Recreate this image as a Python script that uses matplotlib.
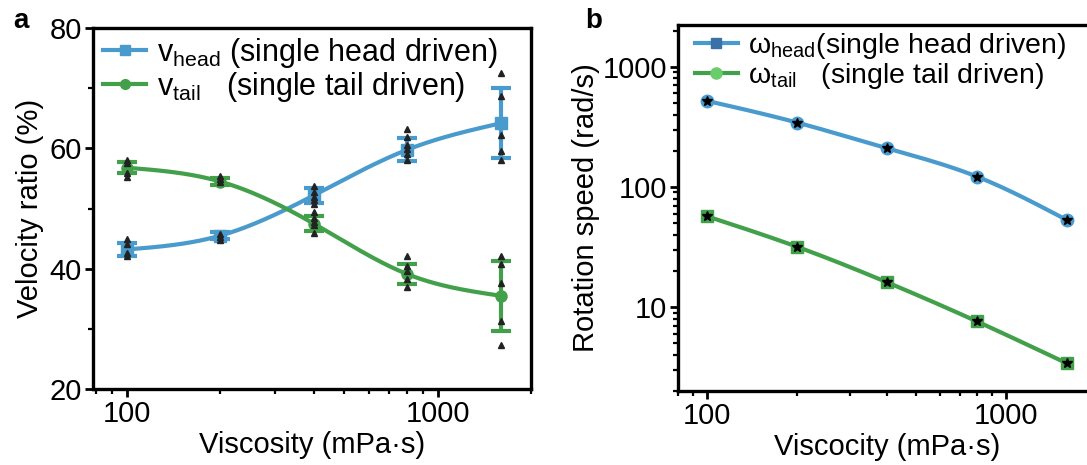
import numpy as np
import matplotlib
matplotlib.use("Agg")
import matplotlib.pyplot as plt
from matplotlib.lines import Line2D

plt.rcParams['font.family'] = ['Liberation Sans', 'DejaVu Sans']
plt.rcParams['mathtext.fontset'] = 'custom'
plt.rcParams['mathtext.rm'] = 'Liberation Sans'
plt.rcParams['mathtext.it'] = 'Liberation Sans:italic'

# viscosity (mPa.s)
visc = [100, 200, 400, 800, 1600]

# panel a: velocity ratio (%)
v_head = [43.2, 45.5, 52.2, 59.8, 64.2]
v_head_err = [1.0, 0.6, 1.2, 1.9, 5.8]
v_tail = [56.8, 54.5, 47.5, 39.1, 35.5]
v_tail_err = [0.9, 0.6, 1.2, 1.7, 5.8]

# individual trials (black triangles)
head_pts = [[44.9, 44.1, 42.7, 42.2],
            [45.8, 45.2, 44.7],
            [53.8, 52.7, 52.0, 51.5, 50.8],
            [63.3, 61.9, 60.5, 59.9, 59.1, 58.0],
            [72.6, 68.7, 62.3, 59.6, 58.0]]
tail_pts = [[58.0, 57.5, 56.0, 55.2],
            [55.5, 54.9, 54.4],
            [49.4, 48.5, 47.8, 47.2, 46.0],
            [42.2, 40.5, 39.7, 38.3, 36.9],
            [42.2, 40.8, 37.7, 31.3, 27.4]]

# panel b: rotation speed (rad/s)
w_head = [521, 344, 210, 122, 53]
w_tail = [57, 31.8, 16.1, 7.6, 3.4]

blue = '#4a9bcd'
green = '#42a04a'


def smooth(x, y, n=200):
    # natural cubic spline through the points, in log-x space
    t = np.log10(np.asarray(x, float))
    y = np.asarray(y, float)
    h = np.diff(t)
    m = len(t)
    A = np.zeros((m, m))
    r = np.zeros(m)
    A[0, 0] = A[-1, -1] = 1
    for i in range(1, m - 1):
        A[i, i - 1] = h[i - 1]
        A[i, i] = 2 * (h[i - 1] + h[i])
        A[i, i + 1] = h[i]
        r[i] = 3 * ((y[i + 1] - y[i]) / h[i] - (y[i] - y[i - 1]) / h[i - 1])
    c = np.linalg.solve(A, r)
    tt = np.linspace(t[0], t[-1], n)
    idx = np.clip(np.searchsorted(t, tt) - 1, 0, m - 2)
    dt = tt - t[idx]
    b = (y[1:] - y[:-1]) / h - h * (2 * c[:-1] + c[1:]) / 3
    d = (c[1:] - c[:-1]) / (3 * h)
    yy = y[idx] + b[idx] * dt + c[idx] * dt ** 2 + d[idx] * dt ** 3
    return 10 ** tt, yy


def style(ax):
    for s in ax.spines.values():
        s.set_linewidth(2.4)
    ax.tick_params(which='major', direction='out', length=6, width=2, labelsize=21, pad=2)
    ax.tick_params(which='minor', direction='out', length=3.5, width=1.6)
    ax.tick_params(top=False, right=False, which='both')


fig = plt.figure(figsize=(10.87, 4.65), dpi=100)

# ---- panel a
ax = fig.add_axes([0.0856, 0.1634, 0.403, 0.776])
style(ax)
ax.set_xscale('log')
for vals, err, pts, c, mk in [(v_head, v_head_err, head_pts, blue, 's'),
                              (v_tail, v_tail_err, tail_pts, green, 'o')]:
    sx, sy = smooth(visc, vals)
    ax.plot(sx, sy, color=c, lw=3, zorder=2)
    ax.errorbar(visc, vals, yerr=err, fmt=mk, color=c, ms=8, elinewidth=3,
                capsize=7, capthick=3, zorder=3)
    for xv, p in zip(visc, pts):
        ax.plot([xv] * len(p), p, '^', color='#222222', ms=4.5, zorder=4)
ax.set_xlim(78, 2000)
ax.set_ylim(20, 80)
ax.set_yticks([20, 40, 60, 80])
ax.set_yticks([30, 50, 70], minor=True)
ax.set_xticks([100, 1000])
ax.set_xticklabels(['100', '1000'])
ax.set_xlabel('Viscosity (mPa\u00b7s)', fontsize=21, labelpad=2)
ax.set_ylabel('Velocity ratio (%)', fontsize=21, labelpad=4)
h1 = Line2D([], [], color=blue, lw=3, marker='s', ms=7)
h2 = Line2D([], [], color=green, lw=3, marker='o', ms=7)
ax.legend([h1, h2],
          [r'v$_{\mathrm{head}}$ (single head driven)',
           r'v$_{\mathrm{tail}}$   (single tail driven)'],
          loc='upper left', frameon=False, fontsize=22, handlelength=1.4,
          handletextpad=0.35, labelspacing=0.0, borderaxespad=0.2,
          bbox_to_anchor=(-0.018, 1.03))
fig.text(0.012, 0.955, 'a', fontsize=20, fontweight='bold', va='center')

# ---- panel b
bx = fig.add_axes([0.6237, 0.159, 0.3845, 0.787])
style(bx)
bx.set_xscale('log')
bx.set_yscale('log')
for vals, c, mk in [(w_head, blue, 'o'), (w_tail, green, 's')]:
    lx, ly = smooth(visc, np.log10(vals))
    bx.plot(lx, 10 ** ly, color=c, lw=3, zorder=2)
    bx.plot(visc, vals, mk, color=c, ms=9, zorder=3)
    bx.plot(visc, vals, '*', color='black', ms=7, zorder=4)
bx.set_xlim(80, 2000)
bx.set_ylim(2, 2225)
bx.set_xticks([100, 1000])
bx.set_xticklabels(['100', '1000'])
bx.set_yticks([10, 100, 1000])
bx.set_yticklabels(['10', '100', '1000'])
bx.set_xlabel('Viscocity (mPa\u00b7s)', fontsize=21, labelpad=2)
bx.set_ylabel('Rotation speed (rad/s)', fontsize=21, labelpad=2)
g1 = Line2D([], [], color=blue, lw=3, marker='s', ms=7, mfc='#3a72a8', mec='#3a72a8')
g2 = Line2D([], [], color=green, lw=3, marker='o', ms=8, mfc='#6acc6a', mec='#6acc6a')
bx.legend([g1, g2],
          ['\u03c9$_{\\mathrm{head}}$(single head driven)',
           '\u03c9$_{\\mathrm{tail}}$   (single tail driven)'],
          loc='upper left', frameon=False, fontsize=20.5, handlelength=1.5,
          handletextpad=0.35, labelspacing=0.0, borderaxespad=0.2,
          bbox_to_anchor=(0.0, 1.03))
fig.text(0.538, 0.955, 'b', fontsize=20, fontweight='bold', va='center')

fig.savefig('out.png', dpi=100)
